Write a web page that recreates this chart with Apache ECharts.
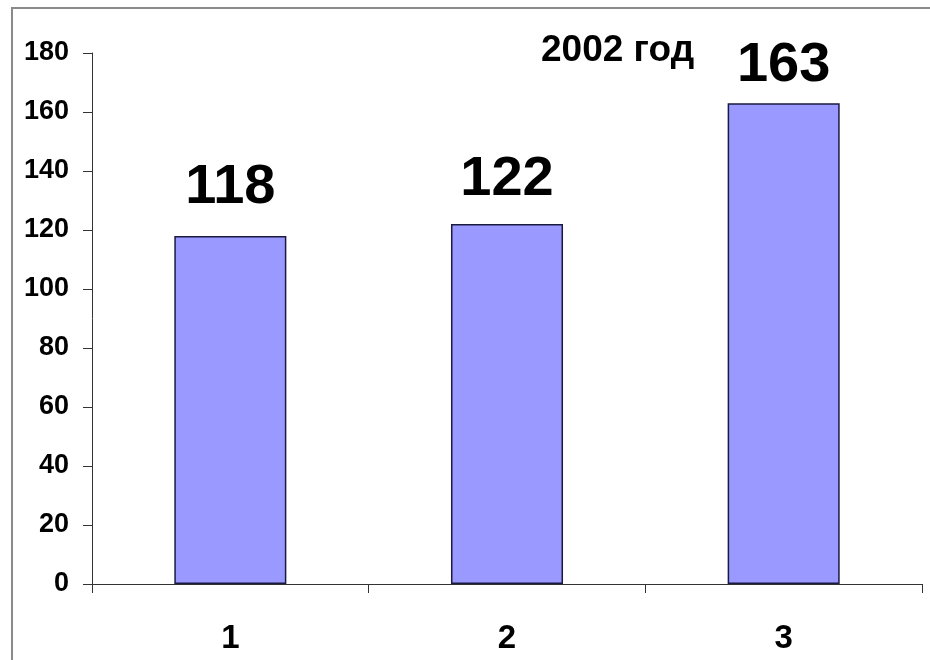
<!DOCTYPE html>
<html>
<head>
<meta charset="utf-8">
<script src="https://cdn.jsdelivr.net/npm/echarts@6/dist/echarts.min.js"></script>
<style>html,body{margin:0;padding:0;background:#fff}#c{width:930px;height:660px}</style>
</head>
<body>
<div id="c"></div>
<script>
var categories = ['1', '2', '3'];
var values = [118, 122, 163];
var yTicks = [0, 20, 40, 60, 80, 100, 120, 140, 160, 180];
var titleText = '2002 год';

var chart = echarts.init(document.getElementById('c'));
var font = '"Liberation Sans", Arial, sans-serif';
var labelGap = [20, 17, 10];
chart.setOption({
  animation: false,
  backgroundColor: '#fff',
  title: {
    text: titleText,
    left: 536, top: 27,
    textStyle: {fontFamily: font, fontWeight: 'bold', fontSize: 37, color: '#000'}
  },
  graphic: [
    {type: 'polyline', shape: {points: [[12, 661], [12, 8], [931, 8]]}, style: {stroke: '#8a8a8a', lineWidth: 2, fill: null}}
  ],
  grid: {left: 92, right: 8, top: 53, bottom: 76},
  xAxis: {
    type: 'category',
    data: categories,
    axisLine: {lineStyle: {color: '#333', width: 1}},
    axisTick: {show: true, length: 9, lineStyle: {color: '#333'}},
    axisLabel: {fontFamily: font, fontWeight: 'bold', fontSize: 33, color: '#000', margin: 38}
  },
  yAxis: {
    type: 'value',
    min: 0, max: 180, interval: 20,
    splitLine: {show: false},
    axisLine: {show: true, lineStyle: {color: '#333', width: 1}},
    axisTick: {show: true, length: 9, lineStyle: {color: '#333'}},
    axisLabel: {fontFamily: font, fontWeight: 'bold', fontSize: 27, color: '#000', margin: 23,
      formatter: function (v) { return yTicks.indexOf(v) >= 0 ? String(v) : ''; }}
  },
  series: [{
    type: 'bar',
    data: values.map(function (v, i) { return {value: v, label: {distance: labelGap[i]}}; }),
    barWidth: '40.5%',
    itemStyle: {color: '#9999ff', borderColor: '#1a1a40', borderWidth: 1.5},
    label: {show: true, position: 'top', fontFamily: font, fontWeight: 'bold', fontSize: 56, color: '#000'}
  }]
});
</script>
</body>
</html>
